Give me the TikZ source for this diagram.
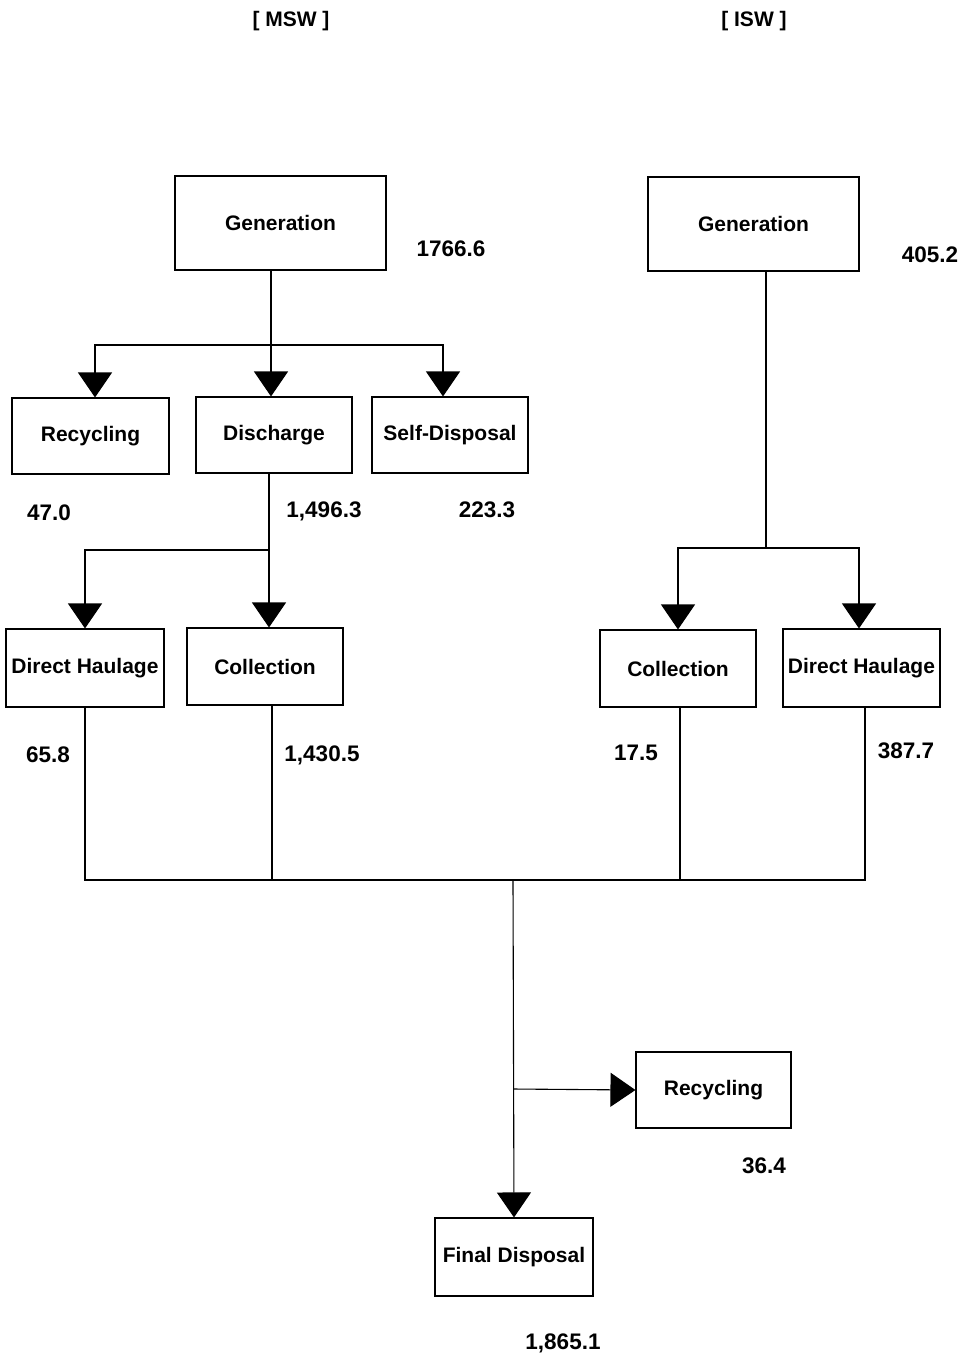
\documentclass[tikz,border=0pt]{standalone}
\usepackage{fontspec}
\setmainfont{Liberation Sans}
\usetikzlibrary{arrows.meta}
\begin{document}
\begin{tikzpicture}[x=1pt,y=-1pt,
  box/.style={draw,line width=1.1pt,inner sep=0pt,font=\bfseries\fontsize{21}{24}\selectfont},
  num/.style={inner sep=0pt,font=\bfseries\fontsize{22.5}{26}\selectfont},
  hdr/.style={inner sep=0pt,font=\bfseries\fontsize{21}{24}\selectfont},
  ln/.style={line width=1.1pt},
  arr/.style={line width=1.1pt,-{Triangle[width=34pt,length=25pt]}}]
\useasboundingbox (0,0) rectangle (963,1361);
% headers
\node[hdr] (hM) at (291,21) {[ MSW ]};
\node[hdr] (hI) at (754,21) {[ ISW ]};
% MSW boxes
\node[box,minimum width=211pt,minimum height=94pt] (genM) at (280.5,223) {Generation};
\node[box,minimum width=157pt,minimum height=76pt] (recM) at (90.5,436) {Recycling};
\node[box,minimum width=156pt,minimum height=76pt] (dis) at (274,435) {Discharge};
\node[box,minimum width=156pt,minimum height=76pt] (self) at (450,435) {Self-Disposal};
\node[box,minimum width=158pt,minimum height=78pt] (dhM) at (85,668) {Direct Haulage};
\node[box,minimum width=156pt,minimum height=77pt] (colM) at (265,666.5) {Collection};
% ISW boxes
\node[box,minimum width=211pt,minimum height=94pt] (genI) at (753.5,224) {Generation};
\node[box,minimum width=156pt,minimum height=77pt] (colI) at (678,668.5) {Collection};
\node[box,minimum width=157pt,minimum height=78pt] (dhI) at (861.5,668) {Direct Haulage};
% final
\node[box,minimum width=155pt,minimum height=76pt] (rec2) at (713.5,1090) {Recycling};
\node[box,minimum width=158pt,minimum height=78pt] (fin) at (514,1257) {Final Disposal};
% numbers
\node[num] (n1) at (451,249) {1766.6};
\node[num] (n2) at (930,255) {405.2};
\node[num] (n3) at (49,513) {47.0};
\node[num] (n4) at (324,511) {1,496.3};
\node[num] (n5) at (487,510) {223.3};
\node[num] (n6) at (48,755) {65.8};
\node[num] (n7) at (322,755) {1,430.5};
\node[num] (n8) at (636,753) {17.5};
\node[num] (n9) at (906,751) {387.7};
\node[num] (n10) at (764,1166) {36.4};
\node[num] (n11) at (563,1343) {1,865.1};
% connectors MSW
\coordinate (jM) at (271,345);
\draw[ln] (genM.south -| jM) -- (jM);
\draw[arr] (jM) -| ([xshift=4.5pt]recM.north);
\draw[arr] (jM) -| ([xshift=-7pt]self.north);
\draw[arr] (jM) -- (jM |- dis.north);
\coordinate (jD) at (269,550);
\draw[ln] (dis.south -| jD) -- (jD);
\draw[arr] (jD) -| (dhM.north);
\draw[arr] (jD) -- (jD |- colM.north);
% connectors ISW
\coordinate (jI) at (766,548);
\draw[ln] (genI.south -| jI) -- (jI);
\draw[arr] (jI) -| (colI.north);
\draw[arr] (jI) -| ([xshift=-2.5pt]dhI.north);
% merge
\coordinate (jB) at (513,880);
\draw[ln] (dhM.south) -- (dhM.south |- jB) -- ([xshift=3.5pt]dhI.south |- jB) -- ([xshift=3.5pt]dhI.south);
\draw[ln] ([xshift=7pt]colM.south) -- ([xshift=7pt]colM.south |- jB);
\draw[ln] ([xshift=2pt]colI.south) -- ([xshift=2pt]colI.south |- jB);
\draw[arr] (jB) -- (fin.north);
\coordinate (jR) at (513,1089);
\draw[arr] (jR) -- (rec2.west);
\end{tikzpicture}
\end{document}
